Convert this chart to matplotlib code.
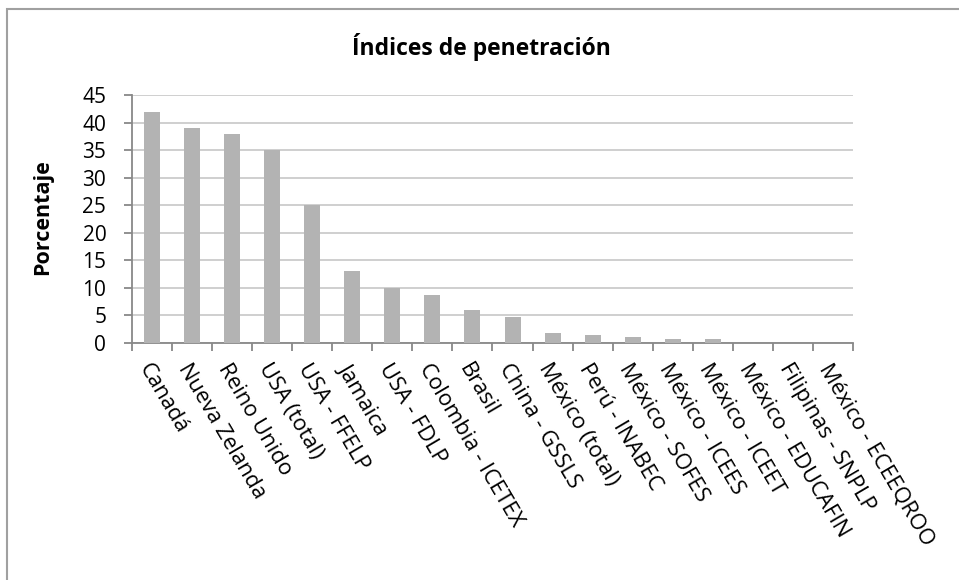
import matplotlib
matplotlib.use("Agg")
import matplotlib.pyplot as plt
from matplotlib.patches import Rectangle
from matplotlib.transforms import ScaledTranslation

categories = ["Canadá", "Nueva Zelanda", "Reino Unido", "USA (total)", "USA - FFELP",
              "Jamaica", "USA - FDLP", "Colombia - ICETEX", "Brasil", "China - GSSLS",
              "México (total)", "Perú - INABEC", "México - SOFES", "México - ICEES",
              "México - ICEET", "México - EDUCAFIN", "Filipinas - SNPLP", "México - ECEEQROO"]
values = [42, 39, 38, 35, 25, 13, 10, 8.8, 5.9, 4.8, 1.8, 1.4, 1.0, 0.7, 0.7, 0, 0, 0]
yticks = [0, 5, 10, 15, 20, 25, 30, 35, 40, 45]

plt.rcParams['font.family'] = ['Open Sans', 'DejaVu Sans']

fig = plt.figure(figsize=(9.59, 5.8), dpi=100)
fig.patches.append(Rectangle((7/959, -0.1), 2.0, 1 - 9/580 + 0.1, transform=fig.transFigure,
                             fill=False, edgecolor='#a0a0a0', linewidth=1.5, zorder=0))
ax = fig.add_axes([132/959, 1 - 343/580, (853 - 132)/959, (343 - 95)/580])

x = list(range(len(categories)))
ax.bar(x, values, width=0.4, color='#b3b3b3', zorder=3)
ax.set_xlim(-0.5, len(categories) - 0.5)
ax.set_ylim(0, 45)
ax.set_yticks(yticks)
ax.set_yticklabels([str(t) for t in yticks], fontsize=15)
ax.yaxis.grid(True, color='#cccccc', linewidth=1.3, zorder=0)
ax.set_axisbelow(True)

ax.set_xticks([i - 0.5 for i in range(len(categories) + 1)])
ax.set_xticklabels([])
ax.set_xticks(x, minor=True)
labels = ax.set_xticklabels(categories, minor=True, rotation=-59.5, ha='left', va='top',
                            rotation_mode='anchor', fontsize=15.8)
shift = ScaledTranslation(6/100, -6/100, fig.dpi_scale_trans)
for lab in labels:
    lab.set_transform(lab.get_transform() + shift)
ax.tick_params(axis='x', which='minor', length=0, pad=12)
ax.tick_params(axis='x', which='major', length=5.5, width=1.3, color='#888888', direction='out')
ax.tick_params(axis='y', length=5.5, width=1.3, color='#888888', direction='out', pad=13)

for s in ['top', 'right']:
    ax.spines[s].set_visible(False)
for s in ['left', 'bottom']:
    ax.spines[s].set_color('#888888')
    ax.spines[s].set_linewidth(1.3)

fig.text(43/959, 1 - 217/580, 'Porcentaje', ha='center', va='center', rotation=90,
         fontsize=15.5, fontweight='bold')
fig.text(481/959, 1 - 47/580, 'Índices de penetración', ha='center', va='center',
         fontsize=16.5, fontweight='bold')

fig.savefig('out.png', dpi=100)
